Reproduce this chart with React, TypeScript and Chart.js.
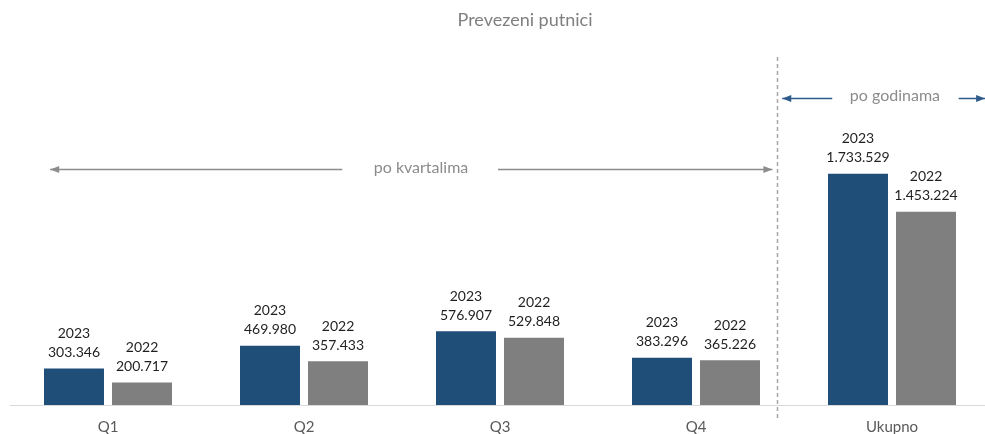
import React, { useEffect, useRef } from "react";
import { Chart, registerables } from "chart.js";

Chart.register(...registerables);

const categories = ["Q1", "Q2", "Q3", "Q4", "Ukupno"];
const seriesLabels = ["2023", "2022"];
const values2023 = [303346, 469980, 576907, 383296, 1733529];
const values2022 = [200717, 357433, 529848, 365226, 1453224];
const colors = ["#1f4e79", "#7f7f7f"];
const titleText = "Prevezeni putnici";
const quarterText = "po kvartalima";
const yearText = "po godinama";

const FONT = "Lato, 'Open Sans', sans-serif";

function fmt(v: number): string {
  return String(v).replace(/\B(?=(\d{3})+(?!\d))/g, ".");
}

function arrow(ctx: CanvasRenderingContext2D, x1: number, x2: number, y: number, color: string, head: "left" | "right") {
  ctx.save();
  ctx.strokeStyle = color;
  ctx.fillStyle = color;
  ctx.lineWidth = 1.5;
  ctx.beginPath();
  ctx.moveTo(x1, y);
  ctx.lineTo(x2, y);
  ctx.stroke();
  const hx = head === "left" ? x1 : x2;
  const dir = head === "left" ? 1 : -1;
  ctx.beginPath();
  ctx.moveTo(hx, y);
  ctx.lineTo(hx + dir * 9, y - 3.5);
  ctx.lineTo(hx + dir * 9, y + 3.5);
  ctx.closePath();
  ctx.fill();
  ctx.restore();
}

const annotationPlugin = {
  id: "annotations",
  afterDatasetsDraw(chart: any) {
    const ctx: CanvasRenderingContext2D = chart.ctx;
    ctx.save();
    ctx.font = `14px ${FONT}`;
    ctx.fillStyle = "#1f1f1f";
    ctx.textAlign = "center";
    ctx.textBaseline = "middle";
    chart.data.datasets.forEach((ds: any, di: number) => {
      const meta = chart.getDatasetMeta(di);
      meta.data.forEach((bar: any, i: number) => {
        ctx.fillText(ds.label, bar.x, bar.y - 35);
        ctx.fillText(fmt(ds.data[i]), bar.x, bar.y - 16);
      });
    });
    ctx.restore();
  },
  afterDraw(chart: any) {
    const ctx: CanvasRenderingContext2D = chart.ctx;
    const ca = chart.chartArea;
    const W = ca.right - ca.left;
    const fx = (f: number) => ca.left + W * f;

    ctx.save();
    // title
    ctx.font = `18px ${FONT}`;
    ctx.fillStyle = "#7f7f7f";
    ctx.textAlign = "center";
    ctx.textBaseline = "middle";
    ctx.fillText(titleText, fx(0.5255), 20);

    // divider
    const dx = Math.round(fx(0.7823)) + 0.5;
    ctx.strokeStyle = "#a6a6a6";
    ctx.lineWidth = 1.5;
    ctx.setLineDash([4, 3]);
    ctx.beginPath();
    ctx.moveTo(dx, 57);
    ctx.lineTo(dx, ca.bottom + 16);
    ctx.stroke();
    ctx.setLineDash([]);

    // quarter arrows
    const qy = 169.5;
    arrow(ctx, fx(0.041), fx(0.339), qy, "#8c8c8c", "left");
    arrow(ctx, fx(0.498), fx(0.778), qy, "#8c8c8c", "right");
    ctx.font = `16px ${FONT}`;
    ctx.fillStyle = "#8c8c8c";
    ctx.fillText(quarterText, fx(0.4194), 168);

    // year arrows
    const yy = 98.5;
    arrow(ctx, fx(0.788), fx(0.839), yy, "#2e5b8a", "left");
    arrow(ctx, fx(0.968), fx(0.995), yy, "#2e5b8a", "right");
    ctx.fillStyle = "#8c8c8c";
    ctx.fillText(yearText, fx(0.903), 96);
    ctx.restore();
  },
};

export default function App() {
  const ref = useRef<HTMLCanvasElement | null>(null);

  useEffect(() => {
    document.body.style.margin = "0";
    document.body.style.overflow = "hidden";
    const canvas = ref.current!;
    const chart = new Chart(canvas, {
      type: "bar",
      data: {
        labels: categories,
        datasets: [
          { label: seriesLabels[0], data: values2023, backgroundColor: colors[0] },
          { label: seriesLabels[1], data: values2022, backgroundColor: colors[1] },
        ],
      },
      options: {
        responsive: false,
        animation: false,
        devicePixelRatio: 1,
        layout: { padding: { left: 10, right: 0, top: 50, bottom: 1 } },
        datasets: {
          bar: {
            base: 36000,
            categoryPercentage: 0.694,
            barPercentage: 0.882,
          },
        },
        plugins: {
          legend: { display: false },
          tooltip: { enabled: false },
          title: { display: false },
        },
        scales: {
          x: {
            grid: { display: true, drawOnChartArea: false, drawTicks: false },
            border: { display: true, color: "#d9d9d9", width: 1 },
            ticks: {
              padding: 13,
              color: "#595959",
              font: { family: FONT, size: 15 },
            },
          },
          y: {
            display: false,
            min: 36000,
            max: 2641000,
          },
        },
      },
      plugins: [annotationPlugin],
    });
    return () => chart.destroy();
  }, []);

  return (
    <div style={{ width: 990, height: 434, position: "relative", overflow: "hidden" }}>
      <canvas ref={ref} width={990} height={450} style={{ display: "block", width: 990, height: 450 }} />
    </div>
  );
}
